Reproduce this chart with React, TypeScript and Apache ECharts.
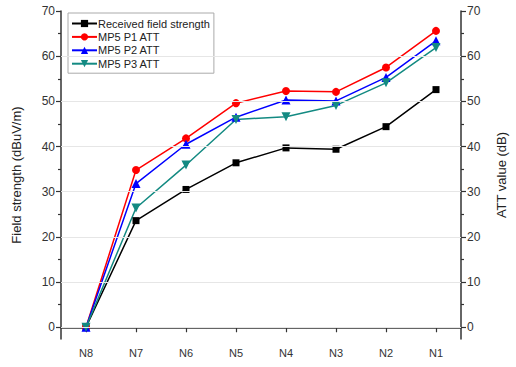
import React, { useEffect, useRef } from "react";
import * as echarts from "echarts";

const categories = ["N8", "N7", "N6", "N5", "N4", "N3", "N2", "N1"];
const receivedField = [0, 23.6, 30.5, 36.4, 39.7, 39.4, 44.4, 52.6];
const p1Att = [0, 34.8, 41.8, 49.6, 52.3, 52.1, 57.5, 65.6];
const p2Att = [0, 31.8, 40.5, 46.5, 50.3, 50.1, 55.3, 63.4];
const p3Att = [0, 26.4, 35.9, 46.0, 46.6, 49.1, 54.1, 61.9];
const majorTicks = [0, 10, 20, 30, 40, 50, 60, 70];
const minorTicks = [5, 15, 25, 35, 45, 55, 65];
const gridValues = [0, 10, 20, 30, 40, 50, 60];

const FONT = "'Liberation Sans', Arial, sans-serif";
const AXIS_COLOR = "#333";
const Y_MIN = -2.6;
const Y_MAX = 70;

function majorAxis(position: "left" | "right", name: string, nameGap: number) {
  return {
    type: "value",
    position,
    min: Y_MIN,
    max: Y_MAX,
    name,
    nameLocation: "middle",
    nameGap,
    nameRotate: 90,
    nameTextStyle: { fontFamily: FONT, fontSize: 13, color: "#222" },
    axisLine: { show: true, lineStyle: { color: AXIS_COLOR, width: 1.5 } },
    axisTick: {
      show: true,
      inside: false,
      length: 5,
      customValues: majorTicks,
      lineStyle: { color: AXIS_COLOR, width: 1.2 },
    },
    axisLabel: {
      show: true,
      customValues: majorTicks,
      fontFamily: FONT,
      fontSize: 12,
      color: "#333",
      margin: 6,
    },
    splitLine: { show: false },
  };
}

function minorAxis(position: "left" | "right") {
  return {
    type: "value",
    position,
    min: Y_MIN,
    max: Y_MAX,
    axisLine: { show: false },
    axisTick: {
      show: true,
      inside: false,
      length: 3,
      customValues: minorTicks,
      lineStyle: { color: AXIS_COLOR, width: 1.2 },
    },
    axisLabel: { show: false },
    splitLine: { show: false },
  };
}

export default function App() {
  const ref = useRef<HTMLDivElement>(null);

  useEffect(() => {
    if (!ref.current) return;
    const chart = echarts.init(ref.current, undefined, { renderer: "svg" });

    const lineSeries = (
      name: string,
      data: number[],
      color: string,
      symbol: string,
      symbolSize: number,
      symbolRotate = 0
    ) => ({
      name,
      type: "line",
      data,
      z: 3,
      symbol,
      symbolSize,
      symbolRotate,
      lineStyle: { color, width: 1.5 },
      itemStyle: { color },
    });

    chart.setOption({
      animation: false,
      backgroundColor: "#fff",
      grid: { left: 61, right: 48, top: 11, bottom: 28 },
      legend: {
        left: 68,
        top: 13,
        orient: "vertical",
        padding: [5, 4, 4, 3],
        itemGap: 2.4,
        itemWidth: 25,
        itemHeight: 9,
        borderColor: "#aaa",
        borderWidth: 1,
        backgroundColor: "#fff",
        textStyle: { fontFamily: FONT, fontSize: 11, color: "#222", padding: [0, 0, 0, -4] },
        data: ["Received field strength", "MP5 P1 ATT", "MP5 P2 ATT", "MP5 P3 ATT"],
      },
      xAxis: {
        type: "category",
        data: categories,
        boundaryGap: true,
        axisLine: { show: true, lineStyle: { color: AXIS_COLOR, width: 1.5 } },
        axisTick: {
          show: true,
          alignWithLabel: true,
          length: 5,
          lineStyle: { color: AXIS_COLOR, width: 1.2 },
        },
        axisLabel: { fontFamily: FONT, fontSize: 11, color: "#333", margin: 8 },
        splitLine: { show: false },
      },
      yAxis: [
        majorAxis("left", "Field strength (dBuV/m)", 38),
        minorAxis("left"),
        majorAxis("right", "ATT value (dB)", 34),
        minorAxis("right"),
      ],
      series: [
        {
          name: "grid",
          type: "line",
          data: [],
          z: 1,
          silent: true,
          markLine: {
            silent: true,
            symbol: "none",
            label: { show: false },
            lineStyle: { color: "#e6e6e6", width: 1, type: "solid" },
            data: gridValues.map((v) => ({ yAxis: v })),
          },
        },
        lineSeries("Received field strength", receivedField, "#000000", "rect", 7),
        lineSeries("MP5 P1 ATT", p1Att, "#ff0000", "circle", 8),
        lineSeries("MP5 P2 ATT", p2Att, "#0000ff", "triangle", 9),
        lineSeries("MP5 P3 ATT", p3Att, "#138a82", "triangle", 9, 180),
      ],
    });

    return () => chart.dispose();
  }, []);

  return (
    <div
      ref={ref}
      style={{ position: "fixed", left: 0, top: 0, width: 516, height: 367 }}
    />
  );
}
